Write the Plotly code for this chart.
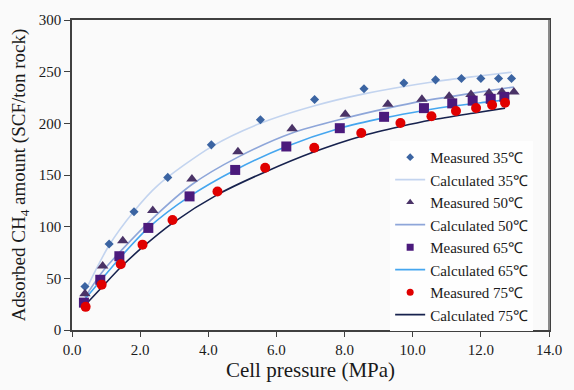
import plotly.graph_objects as go

# ---- Data ----
m35_x = [0.38, 1.09, 1.82, 2.81, 4.09, 5.53, 7.12, 8.57, 9.74, 10.67, 11.43, 12.00, 12.52, 12.90]
m35_y = [42.1, 83.2, 114.4, 147.7, 179.2, 203.5, 223.1, 233.4, 239.0, 242.1, 243.4, 243.4, 243.4, 243.4]

m50_x = [0.38, 0.90, 1.49, 2.37, 3.52, 4.87, 6.46, 8.02, 9.27, 10.27, 11.07, 11.71, 12.24, 12.62, 12.97]
m50_y = [35.0, 62.0, 86.4, 115.6, 146.2, 172.6, 194.8, 208.8, 218.4, 223.4, 226.2, 228.0, 229.3, 230.3, 230.3]

m65_x = [0.35, 0.83, 1.39, 2.24, 3.45, 4.79, 6.29, 7.86, 9.16, 10.33, 11.16, 11.76, 12.29, 12.69]
m65_y = [26.5, 48.6, 71.4, 98.8, 129.3, 154.9, 177.6, 195.3, 206.3, 214.7, 219.3, 221.9, 223.7, 225.6]

m75_x = [0.40, 0.87, 1.43, 2.07, 2.95, 4.27, 5.67, 7.11, 8.49, 9.64, 10.55, 11.27, 11.86, 12.33, 12.71]
m75_y = [22.4, 43.9, 63.6, 82.6, 106.5, 134.0, 157.0, 176.4, 190.7, 200.4, 206.9, 211.9, 214.9, 217.7, 220.0]

c35_x = [0.38, 1.09, 1.82, 2.52, 4.10, 5.53, 7.12, 8.57, 10.67, 12.00, 12.90]
c35_y = [37.0, 82.0, 115.0, 140.0, 177.5, 200.0, 217.0, 228.5, 240.5, 246.0, 249.5]

c50_x = [0.38, 0.90, 1.49, 2.37, 3.52, 4.87, 6.46, 8.02, 9.27, 10.27, 11.71, 12.97]
c50_y = [31.8, 56.7, 78.5, 108.1, 140.8, 167.3, 190.7, 205.0, 214.7, 221.5, 229.0, 235.2]

c65_x = [0.35, 0.83, 1.39, 2.24, 3.45, 4.79, 6.29, 7.86, 9.16, 10.33, 11.16, 12.29, 12.69]
c65_y = [28.7, 47.4, 69.2, 98.8, 129.3, 154.9, 177.6, 195.3, 205.3, 212.5, 216.7, 221.0, 222.6]

c75_x = [0.43, 0.87, 1.43, 2.07, 2.95, 4.27, 5.67, 7.11, 8.49, 9.64, 10.55, 11.86, 12.71]
c75_y = [25.6, 41.1, 60.7, 80.1, 103.5, 131.0, 153.0, 172.5, 187.6, 196.9, 203.2, 210.3, 214.7]

x_ticks = [0, 2, 4, 6, 8, 10, 12, 14]
x_tick_text = ["0.0", "2.0", "4.0", "6.0", "8.0", "10.0", "12.0", "14.0"]
y_ticks = [0, 50, 100, 150, 200, 250, 300]

FONT = "Liberation Serif"
BG = "#fafafa"
TXT = "#1a1a1a"
AX = "#404040"

fig = go.Figure()

series = [
    ("Measured 35℃", m35_x, m35_y, "diamond", "#3b64a2", 7,
     "Calculated 35℃", c35_x, c35_y, "#c3d4ef"),
    ("Measured 50℃", m50_x, m50_y, "triangle-up", "#4a3367", 10,
     "Calculated 50℃", c50_x, c50_y, "#8ea6d9"),
    ("Measured 65℃", m65_x, m65_y, "square", "#4b1a7c", 10,
     "Calculated 65℃", c65_x, c65_y, "#45a6ef"),
    ("Measured 75℃", m75_x, m75_y, "circle", "#e00000", 10,
     "Calculated 75℃", c75_x, c75_y, "#17224e"),
]

# calculated curves (beneath the markers)
rank = 1
for (mname, mx, my, sym, mcol, msize, cname, cx, cy, ccol) in series:
    fig.add_trace(go.Scatter(
        x=cx, y=cy, mode="lines", name=cname,
        line=dict(color=ccol, width=1.6, shape="spline", smoothing=0.8),
        legendrank=rank + 1,
    ))
    rank += 2

# measured points (legend entries drawn with small symbols)
rank = 1
for (mname, mx, my, sym, mcol, msize, cname, cx, cy, ccol) in series:
    fig.add_trace(go.Scatter(
        x=mx, y=my, mode="markers", name=mname, showlegend=False,
        marker=dict(symbol=sym, color=mcol, size=msize, line=dict(width=0)),
    ))
    fig.add_trace(go.Scatter(
        x=[None], y=[None], mode="markers", name=mname,
        marker=dict(symbol=sym, color=mcol, size=6 if sym == "diamond" else 7, line=dict(width=0)),
        legendrank=rank,
    ))
    rank += 2

fig.update_layout(
    width=574, height=390,
    margin=dict(l=72, r=12, t=15, b=54),
    paper_bgcolor=BG, plot_bgcolor=BG,
    font=dict(family=FONT, size=15, color=TXT),
    showlegend=True,
    legend=dict(
        x=0.667, y=0.61, xanchor="left", yanchor="top",
        bgcolor="#fefefe", borderwidth=0,
        font=dict(family=FONT, size=15, color=TXT),
        itemwidth=30, tracegroupgap=0,
    ),
    xaxis=dict(
        range=[0, 14], tickvals=x_ticks, ticktext=x_tick_text,
        showgrid=False, zeroline=False,
        showline=True, linecolor=AX, linewidth=1.5, mirror=True,
        ticks="outside", ticklen=5, tickcolor=AX, tickwidth=1,
        tickfont=dict(family=FONT, size=15, color=TXT),
        title=dict(text="Cell pressure (MPa)", font=dict(family=FONT, size=21, color=TXT), standoff=6),
    ),
    yaxis=dict(
        range=[0, 300], tickvals=y_ticks,
        showgrid=False, zeroline=False,
        showline=True, linecolor=AX, linewidth=1.5, mirror=True,
        ticks="outside", ticklen=6, tickcolor=AX, tickwidth=1,
        tickfont=dict(family=FONT, size=15, color=TXT),
        title=dict(text="Adsorbed CH<sub>4</sub> amount (SCF/ton rock)",
                   font=dict(family=FONT, size=19, color=TXT), standoff=8),
    ),
    shapes=[dict(type="line", xref="paper", yref="paper", x0=1, x1=1, y0=0, y1=1,
                 line=dict(color="#8a8a8a", width=2))],
)

fig.write_html("out.html")
